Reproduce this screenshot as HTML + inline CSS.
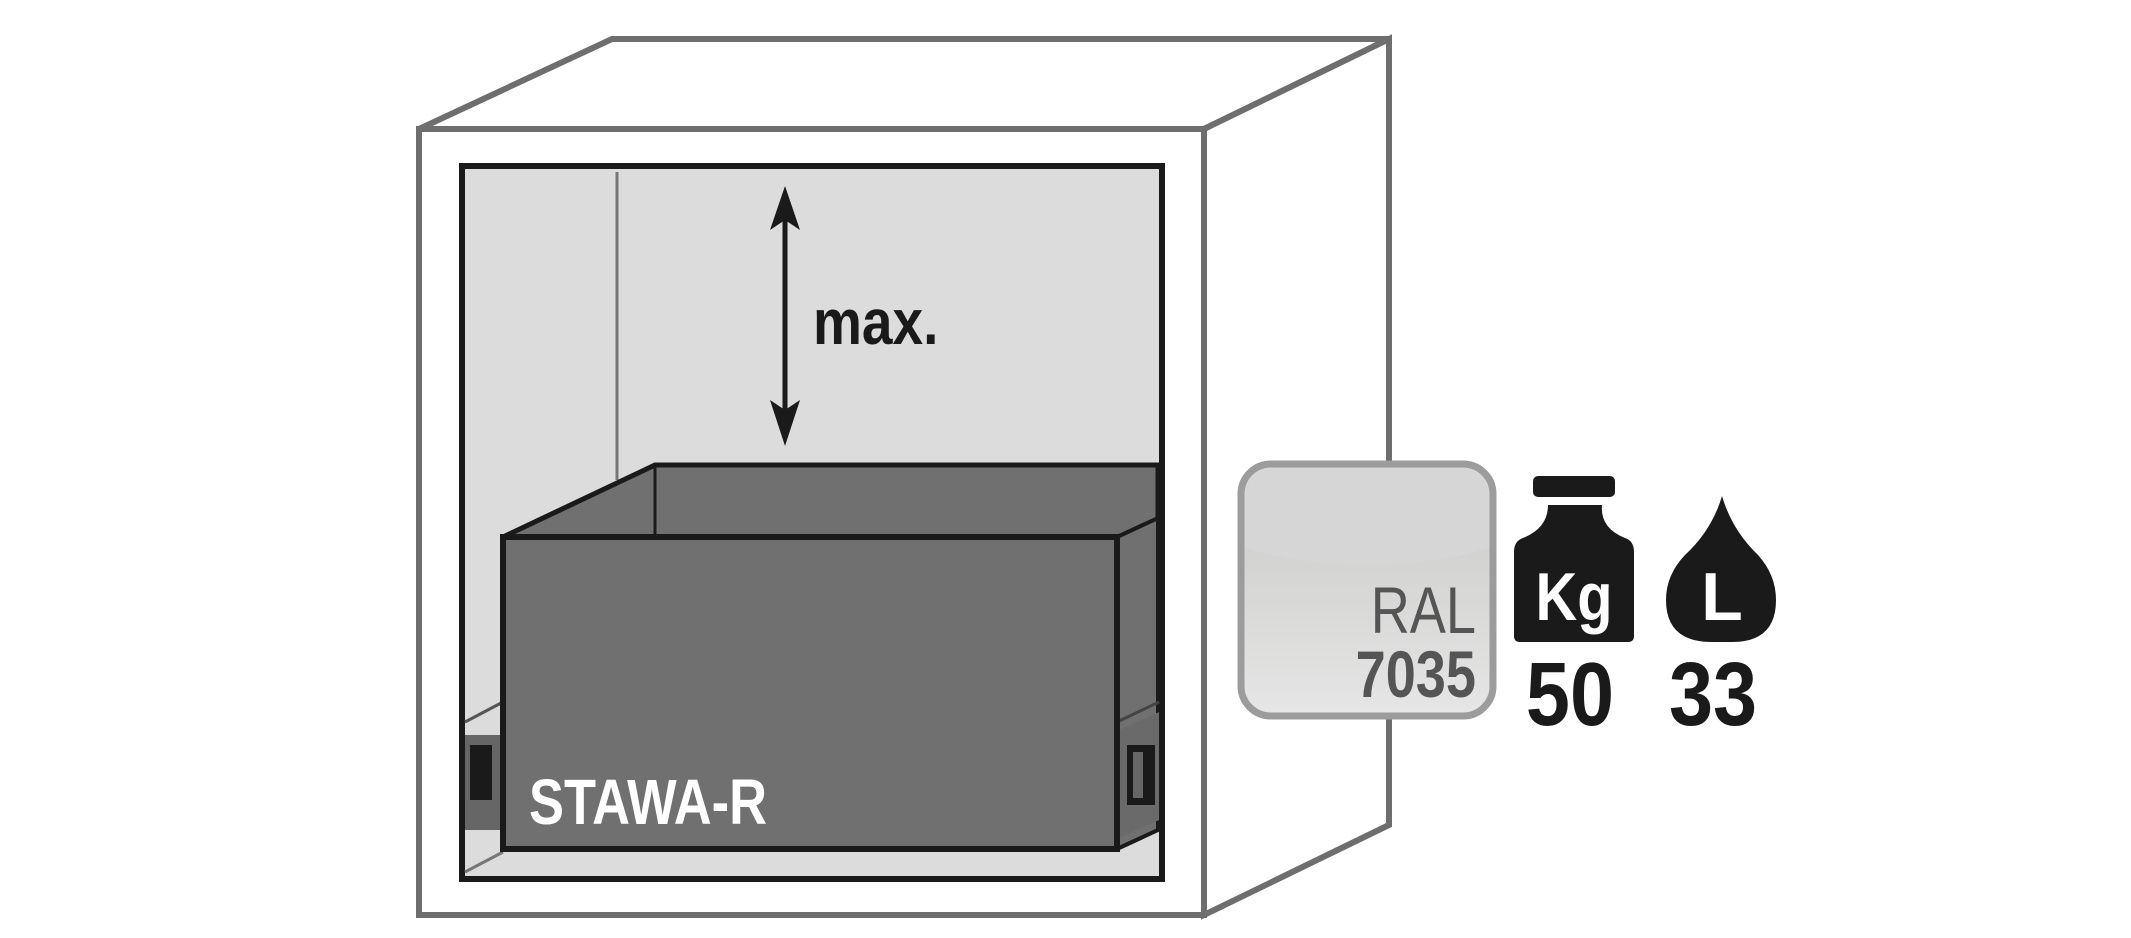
<!DOCTYPE html>
<html><head><meta charset="utf-8"><style>
html,body{margin:0;padding:0;background:#fff;}
svg{display:block;}
text{font-family:"Liberation Sans",sans-serif;}
</style></head><body>
<svg width="2131" height="938" viewBox="0 0 2131 938" xmlns="http://www.w3.org/2000/svg">
<defs>
<linearGradient id="ral" x1="0" y1="0" x2="0" y2="1">
<stop offset="0" stop-color="#c8c8c6"/><stop offset="1" stop-color="#e6e6e6"/>
</linearGradient>
<clipPath id="rc"><rect x="1241" y="464" width="252" height="252" rx="30"/></clipPath>
</defs>
<!-- cabinet -->
<g fill="none" stroke="#6e6e6e" stroke-width="6" stroke-linejoin="miter">
<polygon points="419,129 612,39 1389,39 1204,129" fill="#fff"/>
<polygon points="1204,129 1389,39 1389,825 1204,915" fill="#fff"/>
<rect x="419" y="129" width="785" height="786" fill="#fff"/>
</g>
<!-- interior -->
<rect x="462" y="166" width="700" height="713" fill="#dcdcdc" stroke="#1a1a1a" stroke-width="6"/>
<line x1="617" y1="172" x2="617" y2="480" stroke="#777" stroke-width="3"/>
<polyline points="465,872 503,852" fill="none" stroke="#777" stroke-width="3"/>
<polyline points="465,722 503,702" fill="none" stroke="#555" stroke-width="3"/>
<!-- left rail -->
<rect x="465" y="735" width="38" height="95" fill="#666"/>
<rect x="470" y="745" width="22" height="55" fill="#1a1a1a"/>
<!-- arrow -->
<line x1="785" y1="215" x2="785" y2="410" stroke="#1a1a1a" stroke-width="5"/>
<polygon points="785,186 770,230 785,220 800,230" fill="#1a1a1a"/>
<polygon points="785,446 770,400 785,410 800,400" fill="#1a1a1a"/>
<text x="813" y="344" font-size="64" font-weight="bold" fill="#1a1a1a" transform="translate(813 0) scale(0.86 1) translate(-813 0)">max.</text>
<!-- box -->
<polygon points="503,537 655,465 1158,465 1158,537" fill="#707070" stroke="#1a1a1a" stroke-width="5"/>
<line x1="655" y1="465" x2="655" y2="537" stroke="#1a1a1a" stroke-width="3"/>
<polygon points="1117,537 1158,518 1158,830 1117,849" fill="#707070" stroke="#1a1a1a" stroke-width="4"/>
<!-- right rail -->
<polygon points="1119,730 1159,712 1159,820 1119,838" fill="#6a6a6a"/>
<polyline points="1117,722 1159,702" fill="none" stroke="#444" stroke-width="3"/>
<rect x="1127" y="745" width="28" height="60" fill="#1a1a1a"/>
<rect x="1133" y="752" width="10" height="46" fill="#666"/>
<rect x="503" y="537" width="614" height="312" fill="#707070" stroke="#1a1a1a" stroke-width="6"/>
<text x="529" y="824" font-size="64" font-weight="bold" fill="#fff" transform="translate(529 0) scale(0.82 1) translate(-529 0)">STAWA-R</text>
<!-- RAL badge -->
<rect x="1241" y="464" width="252" height="252" rx="30" fill="url(#ral)"/>
<g clip-path="url(#rc)"><ellipse cx="1367" cy="420" rx="260" ry="145" fill="#d6d6d6"/></g>
<rect x="1241" y="464" width="252" height="252" rx="30" fill="none" stroke="#9c9c9c" stroke-width="7"/>
<text x="1476" y="633" font-size="66" fill="#555" text-anchor="end" transform="translate(1476 0) scale(0.82 1) translate(-1476 0)">RAL</text>
<text x="1476" y="697" font-size="66" font-weight="bold" fill="#555" text-anchor="end" transform="translate(1476 0) scale(0.82 1) translate(-1476 0)">7035</text>
<!-- weight -->
<rect x="1533" y="476" width="82" height="21" rx="5" fill="#1a1a1a"/>
<path d="M1548,505 L1602,505 Q1600,528 1625,538 Q1634,541 1634,552 L1634,636 Q1634,642 1628,642 L1520,642 Q1514,642 1514,636 L1514,552 Q1514,541 1523,538 Q1548,528 1548,505 Z" fill="#1a1a1a"/>
<text x="1574" y="620" font-size="68" font-weight="bold" fill="#fff" text-anchor="middle" transform="translate(1574 0) scale(0.85 1) translate(-1574 0)">Kg</text>
<text x="1570" y="725" font-size="90" font-weight="bold" fill="#1a1a1a" text-anchor="middle" transform="translate(1570 0) scale(0.88 1) translate(-1570 0)">50</text>
<!-- drop -->
<path d="M1722,496 Q1712,530 1685,555 Q1666,575 1666,600 Q1666,642 1712,642 L1732,642 Q1776,642 1776,600 Q1776,575 1758,555 Q1732,530 1722,496 Z" fill="#1a1a1a"/>
<text x="1722" y="620" font-size="68" font-weight="bold" fill="#fff" text-anchor="middle">L</text>
<text x="1713" y="725" font-size="90" font-weight="bold" fill="#1a1a1a" text-anchor="middle" transform="translate(1713 0) scale(0.88 1) translate(-1713 0)">33</text>
</svg>
</body></html>
